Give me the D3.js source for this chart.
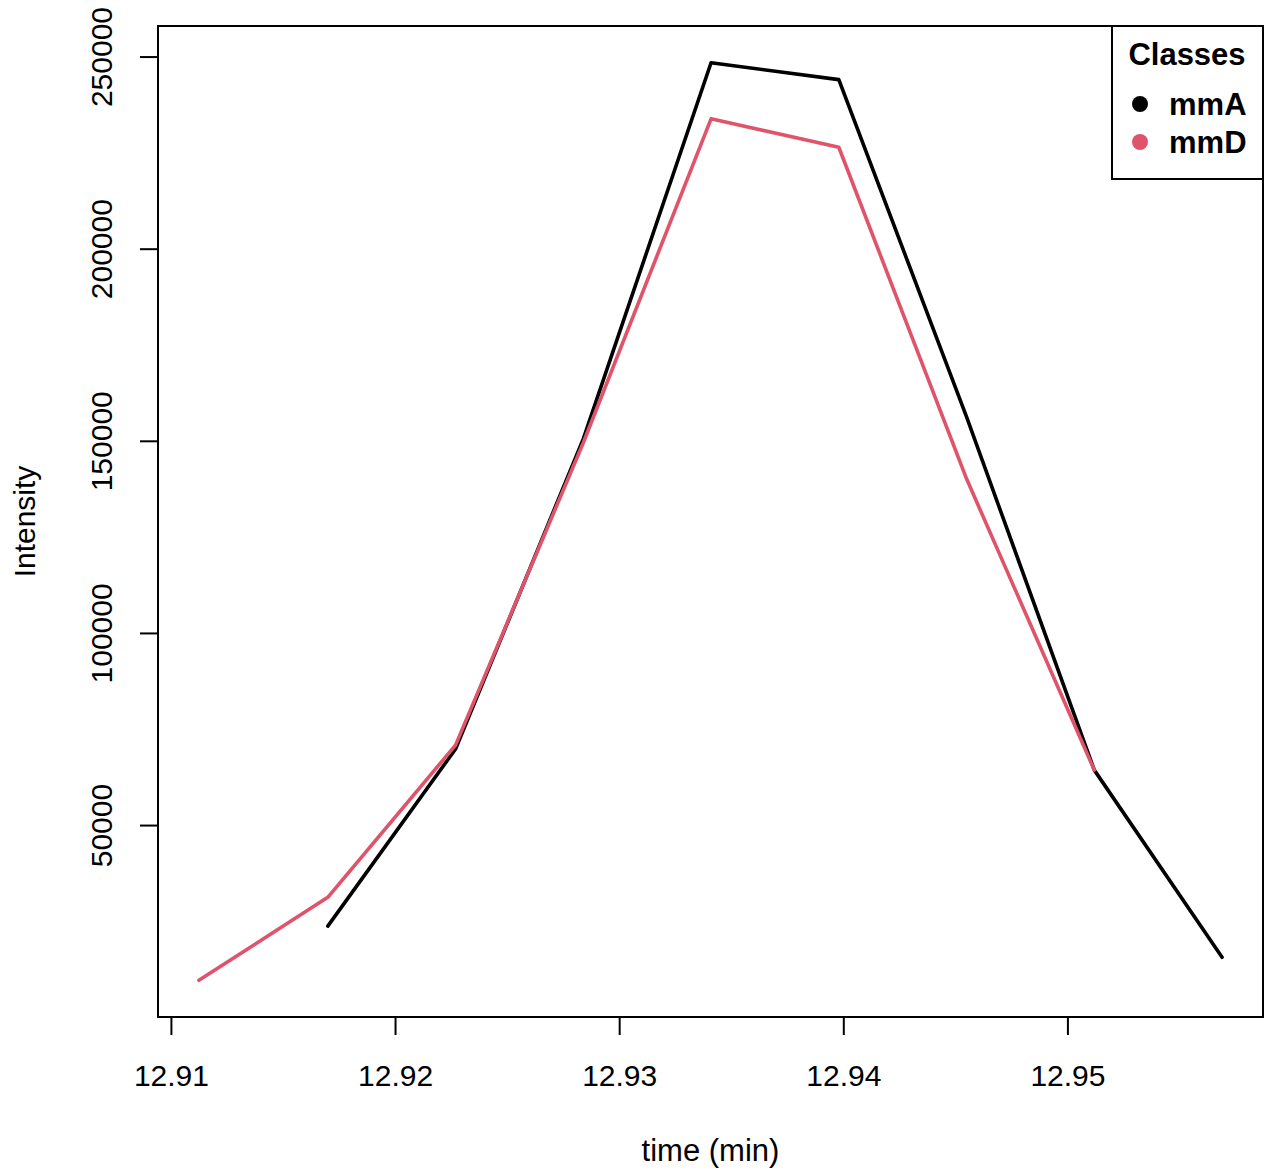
<!DOCTYPE html>
<html>
<head>
<meta charset="utf-8">
<script src="https://cdn.jsdelivr.net/npm/d3@7"></script>
<style>
  body { margin: 0; background: #fff; }
  text { font-family: "Liberation Sans", Arial, sans-serif; }
</style>
</head>
<body>
<div id="chart"></div>
<script>
// retention times (min) and intensities
var timeA = [12.9170, 12.9227, 12.9284, 12.9341, 12.9398, 12.9455, 12.9512, 12.9569];
var intensA = [23700, 69800, 150500, 248400, 244000, 156200, 64300, 15600];
var timeD = [12.91125, 12.9170, 12.9227, 12.9284, 12.9341, 12.9398, 12.9455, 12.9512];
var intensD = [9600, 31200, 70800, 149500, 233800, 226400, 140100, 64300];

var classes = ["mmA", "mmD"];
var colors = ["#000000", "#DF536B"];
var xTicks = [12.91, 12.92, 12.93, 12.94, 12.95];
var yTicks = [50000, 100000, 150000, 200000, 250000];

var width = 1272, height = 1172;
var mLeft = 158, mRight = 1263, mTop = 26, mBottom = 1017;

var svg = d3.select("#chart").append("svg")
    .attr("width", width)
    .attr("height", height);

// R style 4% range extension
function ext(arr) {
    var e = d3.extent(arr);
    var d = (e[1] - e[0]) * 0.04;
    return [e[0] - d, e[1] + d];
}

var x = d3.scaleLinear().domain(ext(timeA.concat(timeD))).range([mLeft, mRight]);
var y = d3.scaleLinear().domain(ext(intensA.concat(intensD))).range([mBottom, mTop]);

var series = [
    timeA.map(function (t, i) { return [t, intensA[i]]; }),
    timeD.map(function (t, i) { return [t, intensD[i]]; })
];

var line = d3.line()
    .x(function (d) { return x(d[0]); })
    .y(function (d) { return y(d[1]); });

series.forEach(function (s, i) {
    svg.append("path")
        .datum(s)
        .attr("d", line)
        .attr("fill", "none")
        .attr("stroke", colors[i])
        .attr("stroke-width", 3.6)
        .attr("stroke-linejoin", "round")
        .attr("stroke-linecap", "round");
});

// box
svg.append("rect")
    .attr("x", mLeft).attr("y", mTop)
    .attr("width", mRight - mLeft).attr("height", mBottom - mTop)
    .attr("fill", "none").attr("stroke", "#000").attr("stroke-width", 2);

// x axis
var xAxis = d3.axisBottom(x)
    .tickValues(xTicks)
    .tickSize(18)
    .tickFormat(d3.format(".2f"));
var gx = svg.append("g").attr("transform", "translate(0," + mBottom + ")").call(xAxis);
gx.select(".domain").attr("d", "M" + x(xTicks[0]) + ",0H" + x(xTicks[xTicks.length - 1]));
gx.selectAll(".tick text").attr("y", 69).attr("dy", null);

// y axis
var yAxis = d3.axisLeft(y)
    .tickValues(yTicks)
    .tickSize(18)
    .tickFormat(d3.format("d"));
var gy = svg.append("g").attr("transform", "translate(" + mLeft + ",0)").call(yAxis);
gy.select(".domain").attr("d", "M0," + y(yTicks[0]) + "V" + y(yTicks[yTicks.length - 1]));
gy.selectAll(".tick text")
    .attr("x", null).attr("dy", null)
    .attr("transform", "translate(-46,0) rotate(-90)")
    .attr("text-anchor", "middle");

[gx, gy].forEach(function (g) {
    g.selectAll(".domain, .tick line").attr("stroke", "#000").attr("stroke-width", 2);
    g.selectAll(".tick text").attr("font-size", 30).attr("fill", "#000")
        .style("font-family", "'Liberation Sans', Arial, sans-serif");
});

// titles
svg.append("text")
    .attr("x", (mLeft + mRight) / 2).attr("y", 1161)
    .attr("text-anchor", "middle").attr("font-size", 31)
    .text("time (min)");
svg.append("text")
    .attr("transform", "translate(35," + (mTop + mBottom) / 2 + ") rotate(-90)")
    .attr("text-anchor", "middle").attr("font-size", 30)
    .text("Intensity");

// legend
var lg = svg.append("g");
lg.append("rect")
    .attr("x", 1112).attr("y", mTop)
    .attr("width", mRight - 1112).attr("height", 179 - mTop)
    .attr("fill", "#fff").attr("stroke", "#000").attr("stroke-width", 2);
lg.append("text")
    .attr("x", 1187).attr("y", 65)
    .attr("text-anchor", "middle").attr("font-size", 31).attr("font-weight", "bold")
    .text("Classes");
classes.forEach(function (c, i) {
    var cy = 104 + i * 38;
    lg.append("circle").attr("cx", 1140).attr("cy", cy).attr("r", 8).attr("fill", colors[i]);
    lg.append("text")
        .attr("x", 1169).attr("y", cy + 11)
        .attr("font-size", 31).attr("font-weight", "bold")
        .text(c);
});
</script>
</body>
</html>
